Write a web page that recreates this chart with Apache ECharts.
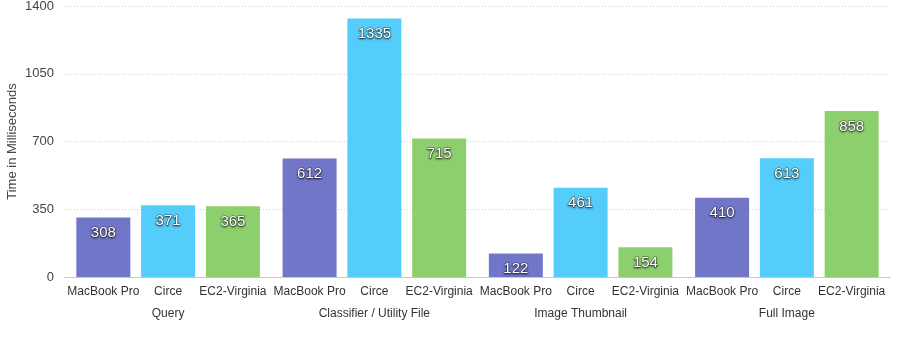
<!DOCTYPE html>
<html>
<head>
<meta charset="utf-8">
<script src="https://cdn.jsdelivr.net/npm/echarts@6/dist/echarts.min.js"></script>
<style>
  html, body { margin: 0; padding: 0; background: #fff; }
  #chart { width: 902px; height: 344px; }
</style>
</head>
<body>
<div id="chart"></div>
<script>
// groups along the x axis
var groups = ['Query', 'Classifier / Utility File', 'Image Thumbnail', 'Full Image'];
// one series per machine
var machines = ['MacBook Pro', 'Circe', 'EC2-Virginia'];
var macbookPro = [308, 612, 122, 410];
var circe = [371, 1335, 461, 613];
var ec2Virginia = [365, 715, 154, 858];
var yTicks = { min: 0, max: 1400, interval: 350 };

var colors = ['#7276c9', '#55cdfa', '#8ecf6d'];
var values = [macbookPro, circe, ec2Virginia];
var font = 'Helvetica, "Liberation Sans", Arial, sans-serif';

var series = [];
// visible bars with the value printed near the top
machines.forEach(function (m, i) {
  series.push({
    name: m,
    type: 'bar',
    xAxisIndex: 0,
    data: values[i],
    barGap: '20%',
    barCategoryGap: '11%',
    itemStyle: { color: colors[i] },
    label: {
      show: true,
      position: 'insideTop',
      distance: 8,
      color: '#fff',
      fontSize: 15,
      fontFamily: font,
      textBorderColor: 'rgba(30,30,30,0.6)',
      textBorderWidth: 1,
      textShadowColor: 'rgba(0,0,0,0.5)',
      textShadowBlur: 2,
      textShadowOffsetY: 1
    }
  });
});
// same layout on a hidden axis, only to put the machine name under each bar
machines.forEach(function (m, i) {
  series.push({
    name: m + '-name',
    type: 'bar',
    xAxisIndex: 1,
    data: values[i],
    barGap: '20%',
    barCategoryGap: '11%',
    silent: true,
    itemStyle: { color: 'rgba(0,0,0,0)' },
    label: {
      show: true,
      position: 'bottom',
      distance: 9,
      color: '#333',
      fontSize: 12,
      fontFamily: font,
      formatter: function () { return m; }
    }
  });
});

var myChart = echarts.init(document.getElementById('chart'));
myChart.setOption({
  animation: false,
  grid: { left: 65, right: 12, top: 6, bottom: 67, outerBoundsMode: 'none', containLabel: false },
  xAxis: [{
    type: 'category',
    data: groups,
    axisLine: { lineStyle: { color: '#c8c8c8', width: 1 } },
    axisTick: { show: false },
    axisLabel: { margin: 31, color: '#333', fontSize: 12, fontFamily: font }
  }, {
    type: 'category',
    data: groups,
    show: false
  }],
  yAxis: {
    type: 'value',
    min: yTicks.min,
    max: yTicks.max,
    interval: yTicks.interval,
    name: 'Time in Milliseconds',
    nameLocation: 'middle',
    nameGap: 46,
    nameMoveOverlap: false,
    nameTextStyle: { color: '#444', fontSize: 13, fontFamily: font },
    axisLine: { show: false },
    axisTick: { show: false },
    axisLabel: {
      margin: 11, color: '#444', fontSize: 13, fontFamily: font,
      formatter: function (v) { return String(v); }
    },
    splitLine: { lineStyle: { color: '#cfcfcf', type: [1, 2], width: 1 } }
  },
  series: series
});
window.addEventListener('resize', function () {
  myChart.resize();
});
</script>
</body>
</html>
